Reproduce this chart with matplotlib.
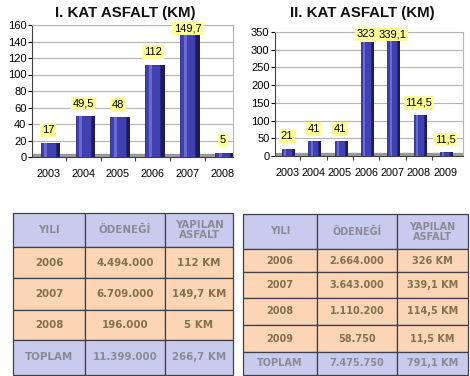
import matplotlib.pyplot as plt
from matplotlib.patches import Rectangle

# chart data
years1 = ['2003', '2004', '2005', '2006', '2007', '2008']
km1 = [17, 49.5, 48, 112, 149.7, 5]
labels1 = ['17', '49,5', '48', '112', '149,7', '5']

years2 = ['2003', '2004', '2005', '2006', '2007', '2008', '2009']
km2 = [21, 41, 41, 323, 339.1, 114.5, 11.5]
labels2 = ['21', '41', '41', '323', '339,1', '114,5', '11,5']

# table data
header = ['YILI', 'ÖDENEĞİ', 'YAPILAN\nASFALT']
table1 = [['2006', '4.494.000', '112 KM'],
          ['2007', '6.709.000', '149,7 KM'],
          ['2008', '196.000', '5 KM']]
total1 = ['TOPLAM', '11.399.000', '266,7 KM']
table2 = [['2006', '2.664.000', '326 KM'],
          ['2007', '3.643.000', '339,1 KM'],
          ['2008', '1.110.200', '114,5 KM'],
          ['2009', '58.750', '11,5 KM']]
total2 = ['TOPLAM', '7.475.750', '791,1 KM']

W, H = 470, 376
fig = plt.figure(figsize=(W / 100, H / 100), dpi=100)
fig.patch.set_facecolor('white')


def px(l, t, r, b):
    return [l / W, 1 - b / H, (r - l) / W, (b - t) / H]


def bar_chart(rect, years, vals, labels, ymax, step, width, xlim, title, title_x):
    ax = fig.add_axes(px(*rect))
    x = list(range(len(years)))
    ax.set_xlim(*xlim)
    ax.set_ylim(0, ymax)
    ax.set_yticks(range(0, ymax + 1, step))
    ax.yaxis.grid(True, color='#b4b4b4', lw=0.8)
    ax.set_axisbelow(True)
    # floor
    ax.axhspan(0, ymax * 0.022, color='#9a9a9a', zorder=1)
    depth = width * 0.3
    ax.bar([i + width / 2 + depth / 2 for i in x], vals, depth,
           color='#1c1c5c', zorder=2)
    ax.bar(x, vals, width, color='#4040b0', edgecolor='#262680', lw=0.6, zorder=3)
    ax.bar([i - width * 0.18 for i in x], vals, width * 0.2,
           color='#6a6ad0', zorder=3, lw=0)
    for i, v, s in zip(x, vals, labels):
        ax.annotate(s, (i, min(v, ymax * 0.88)), xytext=(0, 9), textcoords='offset points',
                    ha='center', va='center', fontsize=8, family='Liberation Sans',
                    bbox=dict(boxstyle='square,pad=0.15', fc='#ffff99', ec='none'),
                    zorder=5)
    ax.set_xticks([i + 0.5 for i in x[:-1]], minor=False)
    ax.set_xticklabels([])
    ax.tick_params(axis='x', length=3, color='#404040')
    for i, y in zip(x, years):
        ax.annotate(y, (i, 0), xycoords=ax.get_xaxis_transform(), xytext=(0, -12.5),
                    textcoords='offset points', ha='center', va='center',
                    fontsize=7.8, family='Liberation Sans')
    ax.tick_params(axis='y', labelsize=8, length=3, pad=1)
    for lab in ax.get_yticklabels():
        lab.set_family('Liberation Sans')
    for s in ['top', 'right']:
        ax.spines[s].set_color('#b4b4b4')
    ax.spines['left'].set_color('#404040')
    ax.spines['bottom'].set_color('#404040')
    fig.text(title_x / W, 1 - 13 / H, title, ha='center', va='center',
             fontsize=10.8, fontweight='bold', family='Liberation Sans', color='#101010')
    return ax


bar_chart((32, 25, 233, 157), years1, km1, labels1, 160, 20, 0.43, (-0.46, 5.29),
          'I. KAT ASFALT (KM)', 125)
bar_chart((275, 32, 463, 156), years2, km2, labels2, 350, 50, 0.38, (-0.46, 6.68),
          'II. KAT ASFALT (KM)', 362)


def draw_table(cols, rows, data, total, size):
    ax = fig.add_axes([0, 0, 1, 1])
    ax.set_xlim(0, W)
    ax.set_ylim(H, 0)
    ax.axis('off')
    all_rows = [header] + data + [total]
    for r, row in enumerate(all_rows):
        edge_row = r == 0 or r == len(all_rows) - 1
        fc = '#c9cbee' if edge_row else '#fbd5b5'
        tc = '#8a8a96' if edge_row else '#84704a'
        for c, txt in enumerate(row):
            ax.add_patch(Rectangle((cols[c], rows[r]), cols[c + 1] - cols[c],
                                   rows[r + 1] - rows[r], fc=fc, ec='#404048', lw=0.9))
            ax.text((cols[c] + cols[c + 1]) / 2, (rows[r] + rows[r + 1]) / 2, txt,
                    ha='center', va='center', fontsize=size, fontweight='bold',
                    color=tc, family='DejaVu Sans', linespacing=1.0)


draw_table([13, 85, 165, 233], [213, 247, 278, 310, 340, 375], table1, total1, 7.4)
draw_table([243, 317, 397, 468], [214, 249, 272, 298, 325, 352, 375], table2, total2, 7)

fig.savefig('out.png', dpi=100)
